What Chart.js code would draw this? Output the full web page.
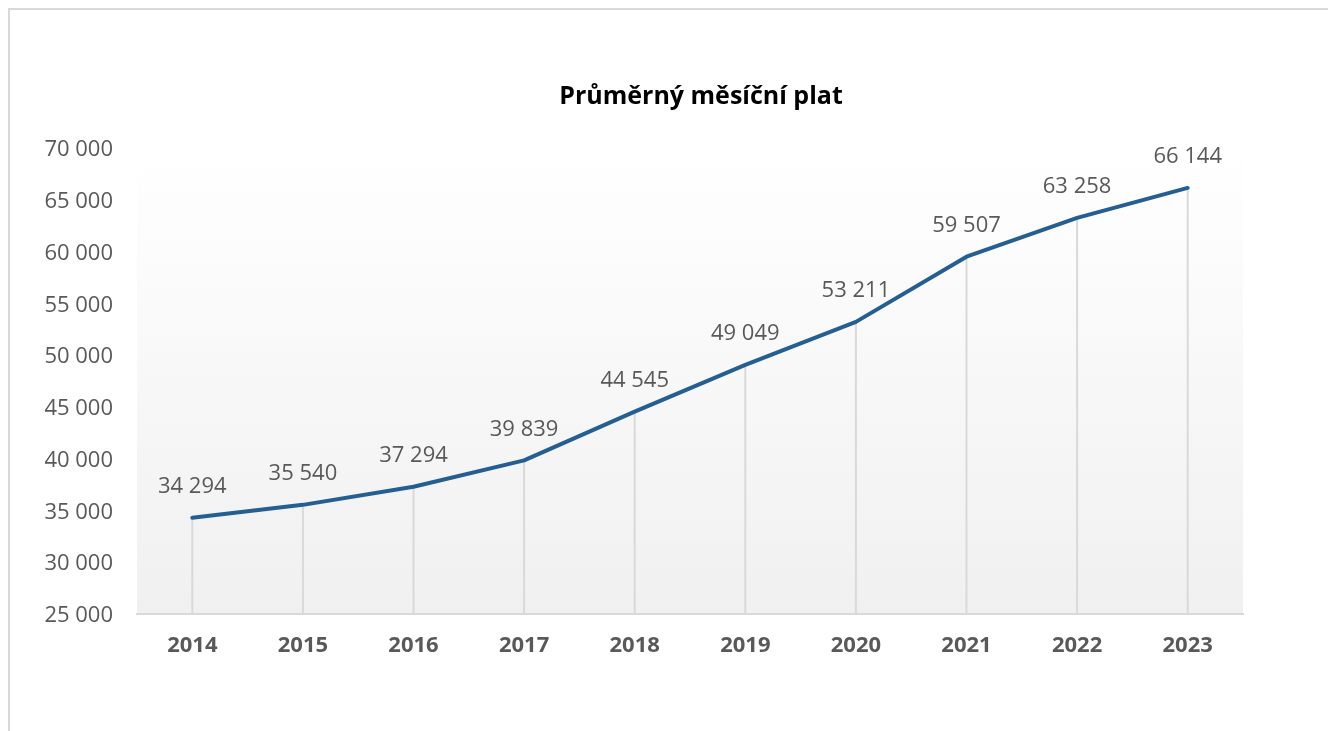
<!DOCTYPE html>
<html>
<head>
<meta charset="utf-8">
<script src="https://cdn.jsdelivr.net/npm/chart.js@4/dist/chart.umd.min.js"></script>
<style>
    html, body { margin: 0; padding: 0; background: #fff; overflow: hidden; }
    #frame {
        position: absolute; left: 8px; top: 8px; width: 1330px; height: 740px;
        border-left: 2px solid #d9d9d9; border-top: 2px solid #d9d9d9;
    }
    #wrap { position: absolute; left: 0; top: 0; width: 1328px; height: 731px; }
</style>
</head>
<body>
<div id="frame"></div>
<div id="wrap"><canvas id="salary-chart" width="1328" height="731"></canvas></div>
<script>
// data
const years = ['2014', '2015', '2016', '2017', '2018', '2019', '2020', '2021', '2022', '2023'];
const salaries = [34294, 35540, 37294, 39839, 44545, 49049, 53211, 59507, 63258, 66144];
const yMin = 25000;
const yMax = 70000;
const yStep = 5000;
const chartTitle = 'Průměrný měsíční plat';

const GREY_TEXT = '#595959';
const LINE_BLUE = '#255E91';
const FONT = "'Open Sans', 'DejaVu Sans', sans-serif";

// thousands with a space, "70 000"
const fmt = v => String(v).replace(/\B(?=(\d{3})+(?!\d))/g, ' ');

// gradient fill behind the plot
const plotBackground = {
    id: 'plotBackground',
    beforeDraw(chart) {
        const { ctx, chartArea: a } = chart;
        const g = ctx.createLinearGradient(0, a.top, 0, a.bottom);
        g.addColorStop(0, '#ffffff');
        g.addColorStop(1, '#f0f0f0');
        ctx.save();
        ctx.fillStyle = g;
        ctx.fillRect(a.left, a.top, a.right - a.left, a.bottom - a.top);
        ctx.restore();
    }
};

// thin vertical lines from each point down to the axis
const dropLines = {
    id: 'dropLines',
    beforeDatasetsDraw(chart) {
        const { ctx, chartArea: a } = chart;
        const meta = chart.getDatasetMeta(0);
        ctx.save();
        ctx.strokeStyle = '#d9d9d9';
        ctx.lineWidth = 2;
        meta.data.forEach(p => {
            ctx.beginPath();
            ctx.moveTo(p.x, p.y);
            ctx.lineTo(p.x, a.bottom);
            ctx.stroke();
        });
        ctx.restore();
    }
};

// value labels above the points
const valueLabels = {
    id: 'valueLabels',
    afterDatasetsDraw(chart) {
        const { ctx } = chart;
        const meta = chart.getDatasetMeta(0);
        ctx.save();
        ctx.fillStyle = GREY_TEXT;
        ctx.font = `22px ${FONT}`;
        ctx.textAlign = 'center';
        ctx.textBaseline = 'middle';
        meta.data.forEach((p, i) => {
            ctx.fillText(fmt(salaries[i]), p.x, p.y - 31);
        });
        ctx.restore();
    }
};

// title, centred a bit right of the canvas middle like the original
const titleText = {
    id: 'titleText',
    afterDraw(chart) {
        const { ctx } = chart;
        ctx.save();
        ctx.fillStyle = '#000';
        ctx.font = `bold 25px ${FONT}`;
        ctx.textAlign = 'center';
        ctx.textBaseline = 'alphabetic';
        ctx.fillText(chartTitle, 701, 104);
        ctx.restore();
    }
};

new Chart(document.getElementById('salary-chart'), {
    type: 'line',
    data: {
        labels: years,
        datasets: [{
            data: salaries,
            borderColor: LINE_BLUE,
            borderWidth: 4,
            borderCapStyle: 'round',
            borderJoinStyle: 'round',
            pointRadius: 0,
            tension: 0,
            fill: false
        }]
    },
    options: {
        responsive: false,
        animation: false,
        layout: { padding: { top: 148, right: 85, bottom: 0, left: 0 } },
        plugins: {
            legend: { display: false },
            title: { display: false },
            tooltip: { enabled: false }
        },
        scales: {
            x: {
                offset: true,
                grid: { display: false, drawTicks: false },
                border: { display: true, color: '#d9d9d9', width: 2 },
                ticks: {
                    color: GREY_TEXT,
                    font: { family: FONT, size: 22, weight: 'bold' },
                    padding: 19,
                    maxRotation: 0
                },
                afterFit: s => { s.height = 117; }
            },
            y: {
                min: yMin,
                max: yMax,
                grid: { display: false, drawTicks: false },
                border: { display: false },
                ticks: {
                    stepSize: yStep,
                    color: GREY_TEXT,
                    font: { family: FONT, size: 22 },
                    padding: 24,
                    labelOffset: 2,
                    callback: v => fmt(v)
                },
                afterFit: s => { s.width = 137; }
            }
        }
    },
    plugins: [plotBackground, dropLines, valueLabels, titleText]
});
</script>
</body>
</html>
